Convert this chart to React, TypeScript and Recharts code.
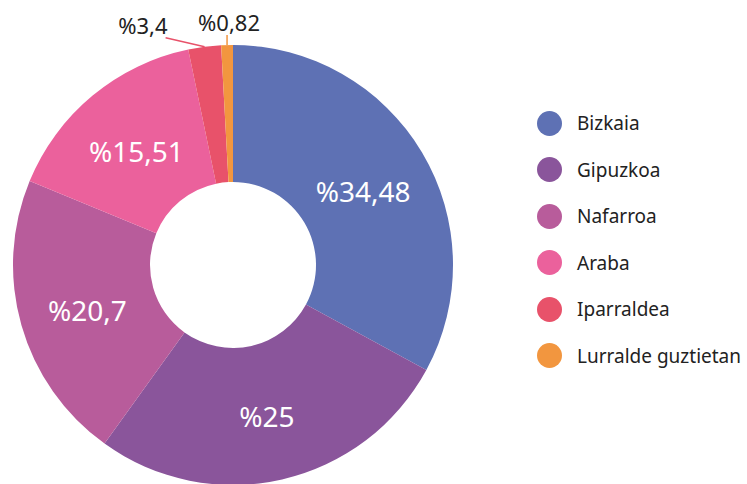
import { PieChart, Pie, Cell, Legend } from 'recharts';

const regions = ['Bizkaia', 'Gipuzkoa', 'Nafarroa', 'Araba', 'Iparraldea', 'Lurralde guztietan'];
// slice sizes as drawn in the picture (the printed labels don't quite match the arcs)
const sliceShares = [32.9, 27.0, 21.3, 15.5, 2.4, 0.86];
// printed percentage labels
const shareLabels = ['%34,48', '%25', '%20,7', '%15,51', '%3,4', '%0,82'];
const colors = ['#5e71b4', '#8a559b', '#b85c9b', '#eb619c', '#e8526a', '#f2963f'];

const chartData = regions.map((name, i) => ({ name, value: sliceShares[i], label: shareLabels[i] }));

const RAD = Math.PI / 180;
const fontFamily = '"Noto Sans", "Open Sans", sans-serif';

// inside labels for big slices, small ones go outside with a leader line
const renderLabel = (props: any) => {
  const { cx, cy, midAngle, innerRadius, outerRadius, value, index, fill } = props;
  const cos = Math.cos(-midAngle * RAD);
  const sin = Math.sin(-midAngle * RAD);
  const text = shareLabels[index];

  if (value > 5) {
    const r = (innerRadius + outerRadius) / 2;
    return (
      <text
        x={cx + r * cos}
        y={cy + r * sin + 3}
        fill="#ffffff"
        textAnchor="middle"
        dominantBaseline="central"
        fontSize={28}
        fontFamily={fontFamily}
      >
        {text}
      </text>
    );
  }

  const sx = cx + outerRadius * cos;
  const sy = cy + outerRadius * sin;
  const last = index === chartData.length - 1;
  const ex = last ? sx : sx - 39;
  const ey = last ? sy - 10 : sy - 9;

  return (
    <g>
      <line x1={sx} y1={sy} x2={ex} y2={ey} stroke={fill} strokeWidth={1.5} />
      <text
        x={last ? ex + 2 : ex + 2}
        y={ey - 13}
        fill="#222222"
        textAnchor={last ? 'middle' : 'end'}
        dominantBaseline="central"
        fontSize={22}
        fontFamily={fontFamily}
      >
        {text}
      </text>
    </g>
  );
};

const renderLegend = () => (
  <div style={{ fontFamily, fontSize: 19, color: '#222222' }}>
    {regions.map((name, i) => (
      <div key={name} style={{ display: 'flex', alignItems: 'center', height: 46.5 }}>
        <span
          style={{
            width: 25,
            height: 25,
            borderRadius: '50%',
            background: colors[i],
            display: 'inline-block',
            marginRight: 15,
          }}
        />
        <span>{name}</span>
      </div>
    ))}
  </div>
);

export default function App() {
  return (
    <div style={{ position: 'absolute', left: 0, top: 0, width: 747, height: 484, background: '#ffffff' }}>
      <PieChart width={747} height={484} margin={{ top: 0, right: 0, bottom: 0, left: 0 }}>
        <Pie
          data={chartData}
          dataKey="value"
          nameKey="name"
          cx={233}
          cy={265}
          innerRadius={83}
          outerRadius={220}
          startAngle={90}
          endAngle={-270}
          stroke="none"
          label={renderLabel}
          labelLine={false}
          isAnimationActive={false}
        >
          {chartData.map((d, i) => (
            <Cell key={d.name} fill={colors[i]} />
          ))}
        </Pie>
        <Legend
          content={renderLegend}
          layout="vertical"
          wrapperStyle={{ position: 'absolute', left: 537, top: 100, width: 210 }}
        />
      </PieChart>
    </div>
  );
}
